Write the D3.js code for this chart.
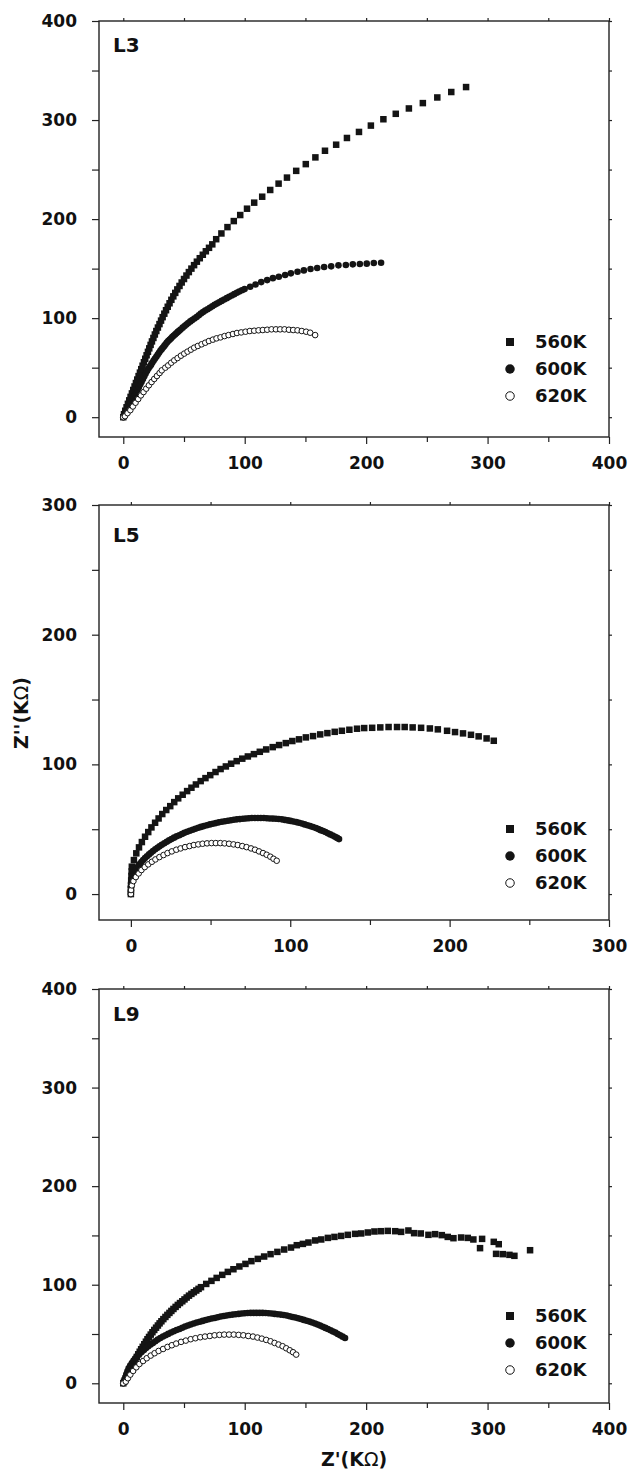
<!DOCTYPE html>
<html>
<head>
<meta charset="utf-8">
<script src="https://cdn.jsdelivr.net/npm/d3@7"></script>
<style>
  body { margin: 0; background: #fff; }
  svg text { font-family: "DejaVu Sans", sans-serif; font-weight: bold; fill: #111; }
</style>
</head>
<body>
<svg id="chart" width="628" height="1472"></svg>
<script>
// Nyquist plots, Z'' vs Z' (KOhm), points as [Z', Z'']

// ---- L3 ----
const L3_560K = [[0,0],[0.6,3],[1.6,6.5],[2.7,10],[3.8,13.5],[4.9,17],[6,20.5],[7.1,24],[8.2,27.5],[9.3,31],[10.4,34.5],[11.5,38],[12.6,41.5],[13.7,45],[14.8,48.5],[15.9,52],[17,55.5],[18.1,59],[19.2,62.5],[20.3,66],[21.4,69.5],[22.5,73],[23.6,76.5],[24.8,80],[26,83.5],[27.2,87],[28.5,90.5],[29.8,94],[31.1,97.5],[32.4,101],[33.8,104.5],[35.2,108],[36.6,111.5],[38.1,115],[39.6,118.5],[41.2,122],[42.8,125.5],[44.5,129],[46.3,132.5],[48.1,136],[50,139.5],[52,143],[54,146.5],[56.1,150],[58.3,153.5],[60.6,157],[63,160.5],[65.5,164],[68,167.5],[70.6,171],[73.3,174.5],[76.5,179.7],[80.8,185.5],[85.8,191.9],[91,198],[96.3,204.1],[101.9,210.5],[107.8,216.6],[114.4,222.6],[121,229.4],[127.9,235.8],[134.8,241.9],[142.4,248.7],[150.3,255.5],[158.2,262.3],[166.1,269],[175.3,275.1],[184.2,281.9],[194.1,288],[203.9,294.4],[214.2,300.8],[224.4,306.3],[235.2,311.7],[246.7,317.1],[258.6,322.8],[270.1,328.3],[282.3,333.3]];
const L3_600K = [[0,0],[0.7,1.6],[1.5,3.3],[2.2,5],[3,6.6],[3.7,8],[4.4,9.4],[5.4,12],[6.4,14.5],[7.5,17],[8.5,19.6],[9.6,22.3],[10.7,25],[11.8,27.7],[12.9,30.4],[14,33.2],[15.1,35.9],[16.2,38.6],[17.3,41.3],[18.4,44],[19.5,46.7],[20.6,48.8],[21.7,50.8],[22.8,52.8],[23.8,54.9],[24.9,56.9],[26,58.9],[27.2,60.9],[28.3,63],[29.4,65],[30.5,67],[31.6,68.7],[32.7,70.4],[33.8,72],[34.8,73.7],[35.9,75.4],[37,76.8],[38.1,78.1],[39.2,79.5],[40.3,80.9],[41.4,82.2],[42.6,83.5],[43.7,84.8],[44.9,86.1],[46,87.3],[47.2,88.6],[48.9,90.4],[50.5,92.1],[52,93.6],[53.5,95.1],[55.2,96.7],[56.8,98.2],[58.6,99.7],[60.4,101.2],[62.2,102.9],[63.9,104.6],[65.7,106.1],[67.5,107.6],[69.4,109],[71.3,110.4],[73.3,111.9],[75.2,113.4],[77.1,114.7],[79,116],[81,117.4],[83.1,118.8],[85.2,120.2],[87.2,121.5],[89.3,122.9],[91.4,124.2],[93.5,125.6],[95.5,126.9],[97.7,128.1],[99.9,129.3],[104.5,131.7],[108.9,134],[113.6,136.4],[118.5,138.4],[123.2,140.4],[128.1,141.8],[133.3,143.5],[138,145.2],[143.5,146.9],[148.7,148.2],[154.2,149.6],[159.7,150.6],[165.4,151.6],[171.2,152.3],[177.2,153.3],[183.3,153.6],[189,154.3],[194.8,154.6],[200.5,155],[206.3,155.7],[212.3,156]];
const L3_620K = [[0,0],[1.4,1],[3.5,4.1],[5.8,7.1],[7.9,10.8],[10.1,14.6],[12.3,18.3],[14.5,22],[16.7,25.4],[18.9,28.8],[21.1,32.2],[23.3,35.5],[25.5,38.6],[27.7,41.6],[29.9,44.6],[31.7,47.3],[34.6,50],[37,52.3],[39.5,55],[42,57.4],[44.7,59.7],[47.5,62.1],[50.2,64.2],[52.9,66.2],[55.7,68.2],[58.4,70.2],[61.4,71.9],[64.5,73.6],[67.5,75.2],[70.5,76.9],[73.8,78.3],[76.8,79.6],[80.1,80.6],[83.4,81.9],[86.7,82.9],[90.3,84],[93.6,85],[97.1,85.6],[100.7,86.3],[104.2,87],[107.8,87.3],[111.4,87.7],[114.9,88],[118.5,88.3],[122.1,88.7],[125.7,88.7],[129.2,88.7],[132.8,88.7],[136.4,88.3],[139.9,88],[143.5,87.7],[147,87],[150.6,86.3],[153.9,85.3],[158,82.9]];

// ---- L5 ----
const L5_560K = [[0,0],[0.05,3.5],[0.1,7],[0.2,10.5],[0.35,14],[0.5,17.5],[0.6,21.1],[1.9,26.2],[3.4,31.4],[5.1,36],[6.9,40.1],[8.9,44.2],[10.9,47.8],[12.9,51.4],[15.2,55],[17.4,58.3],[19.7,61.7],[22.2,64.8],[24.7,67.8],[27.2,70.9],[29.7,73.8],[32.5,76.6],[35.3,79.4],[38,82],[40.8,84.5],[43.8,87.1],[46.8,89.4],[49.8,91.7],[53.1,94.1],[56.3,96.4],[59.6,98.4],[62.9,100.5],[66.4,102.5],[69.9,104.4],[73.4,106.1],[77.2,107.9],[80.9,109.7],[84.9,111.5],[89,113.3],[93,114.9],[97.2,116.4],[101.3,118],[105.5,119.3],[109.8,120.8],[114.3,121.8],[118.8,123.1],[123.3,124.1],[127.9,125.1],[132.4,125.9],[137.1,126.7],[141.9,127.5],[146.4,128],[151.4,128.2],[156.5,128.5],[161.7,128.8],[167,128.8],[171.8,128.8],[176.8,128.5],[182.1,128.2],[187.6,127.7],[192.6,127],[198.4,125.9],[203.4,124.9],[208.4,123.9],[213.4,122.8],[218.2,121.6],[223.2,120],[227.7,118.2]];
const L5_600K = [[0,0],[0,2.8],[0,5.6],[0.2,8.2],[0.4,10.8],[0.9,12.7],[1.4,14.6],[2.1,16.5],[2.9,18.3],[3.7,20],[4.6,21.6],[5.6,23.2],[6.6,24.7],[7.7,26.3],[8.9,27.8],[10.1,29.2],[11.4,30.6],[12.6,31.9],[13.9,33.2],[15.3,34.5],[16.7,35.7],[18,36.9],[19.4,38],[21,39.2],[22.5,40.3],[24,41.4],[25.5,42.4],[27.1,43.5],[28.7,44.5],[30.4,45.4],[32,46.3],[33.6,47.2],[35.3,48],[37,48.8],[38.8,49.6],[40.5,50.4],[42.3,51.1],[44,51.8],[45.8,52.4],[47.7,53.1],[49.6,53.7],[51.4,54.2],[53.3,54.7],[55.2,55.3],[57.1,55.8],[59,56.2],[60.9,56.5],[62.8,56.9],[64.6,57.3],[66.5,57.6],[68.4,57.8],[70.3,58.1],[72.1,58.3],[74,58.5],[75.9,58.6],[77.8,58.6],[79.7,58.6],[81.5,58.6],[83.4,58.6],[85.3,58.5],[87.2,58.3],[89.1,58.2],[91,58.1],[92.8,57.9],[94.7,57.6],[96.6,57.2],[98.5,56.8],[100.2,56.4],[102,56],[103.8,55.5],[105.5,55],[107.3,54.4],[109,53.7],[110.8,53.1],[112.5,52.4],[114.3,51.7],[116.1,50.9],[117.6,50.1],[119.1,49.3],[120.6,48.6],[122.1,47.8],[123.6,46.9],[125.1,46],[126.6,45.1],[128.1,44.2],[129.4,43.3],[130.6,42.4]];
const L5_620K = [[0,0],[0.1,3.1],[0.6,6.7],[1.6,10],[3.1,13.1],[4.9,15.9],[6.6,18.5],[8.7,20.8],[10.9,22.9],[13.2,24.9],[15.4,26.7],[17.9,28.5],[20.5,30.1],[23,31.6],[25.7,32.9],[28.5,34.2],[31.2,35.2],[34,36.2],[36.8,37],[39.5,37.8],[42.3,38.3],[45,38.8],[47.8,39.1],[50.6,39.3],[53.3,39.3],[56.1,39.3],[58.8,39.1],[61.6,38.8],[64.4,38.3],[67.1,37.8],[69.9,37],[72.6,36.2],[75.4,35.2],[77.9,34.2],[80.4,32.9],[82.9,31.6],[85.2,30.3],[87.5,28.8],[89.5,27.2],[91.5,25.7]];

// ---- L9 ----
const L9_560K = [[0,0],[0.6,1.5],[1.2,3],[2,4.8],[2.9,7.1],[3.8,9.2],[4.7,11.3],[5.6,13.5],[6.6,15.9],[7.7,18.3],[8.8,21.1],[10,24],[11.1,26.7],[12.3,29.4],[13.5,32],[14.7,34.5],[16,37],[17.3,39.6],[18.6,42.2],[19.9,44.7],[21.2,47],[22.6,49.4],[24,51.8],[25.5,54.1],[27,56.4],[28.5,58.6],[29.9,60.8],[31.4,62.9],[33,65.1],[34.7,67.3],[36.3,69.4],[38,71.4],[39.6,73.4],[41.3,75.4],[43.1,77.5],[44.9,79.5],[46.7,81.4],[48.6,83.2],[50.4,85.1],[52.2,87],[54.1,88.9],[56.1,90.7],[58.1,92.4],[60.1,94.1],[62,95.8],[64,97.5],[68.3,100.8],[72.6,103.9],[76.9,106.9],[81.5,110],[86.1,113],[90.7,115.7],[95.6,118.5],[100.6,121.1],[105.5,123.9],[110.8,126.2],[116,128.6],[121.3,131],[126.9,133.3],[132.5,135.7],[138.1,137.7],[142.9,140.1],[147.9,141.4],[152.5,142.8],[158,144.9],[163,145.9],[168.5,147.5],[173.9,148.5],[179.4,149.5],[184.9,150.6],[190.9,151.6],[195.9,152],[201.4,153],[206.8,154],[212.1,154.3],[217.8,154.6],[223.9,154.3],[228.8,153.6],[234.8,155],[239.5,152.3],[245,152],[251.3,150.6],[256.8,151.3],[262.3,150.3],[267.2,148.5],[271.9,147.2],[278.2,147.9],[283.7,147.5],[288.3,145.9],[293.8,137.1],[295.5,146.5],[305.1,143.5],[309.2,141.1],[307,131.3],[312.5,131],[318,130.3],[322.1,129.3],[335,135]];
const L9_600K = [[0,0],[0.6,1.5],[1.2,3],[1.8,6],[2.5,9.1],[3.4,12.2],[4.4,15.2],[5.7,17.9],[7.1,20.6],[8.5,23],[10,25.4],[11.6,27.6],[13.3,29.8],[15.1,31.8],[17,33.8],[18.8,35.7],[20.6,37.6],[22.5,39.3],[24.4,40.9],[26.4,42.6],[28.4,44.3],[30.5,45.9],[32.7,47.4],[34.8,48.8],[37,50.1],[39.3,51.5],[41.6,52.8],[43.9,54],[46.3,55.1],[48.6,56.4],[50.9,57.6],[53.2,58.6],[55.5,59.6],[58,60.6],[60.5,61.6],[63,62.5],[65.4,63.3],[67.9,64.2],[70.3,65],[72.8,65.7],[75.3,66.3],[77.7,67],[80.2,67.7],[82.7,68.2],[85.1,68.7],[87.6,69.2],[90.1,69.7],[92.5,70.1],[95,70.4],[97.5,70.8],[100,71.1],[102.4,71.3],[104.9,71.4],[107.4,71.4],[109.8,71.4],[112.3,71.4],[114.8,71.4],[117.2,71.3],[119.7,71.1],[122.2,70.8],[124.7,70.4],[127.1,70.1],[129.6,69.7],[132.1,69.2],[134.6,68.7],[137,68],[139.4,67.3],[141.7,66.7],[144,66],[146.3,65.2],[148.6,64.3],[151,63.5],[153.3,62.6],[155.6,61.6],[157.9,60.6],[160,59.6],[162.1,58.5],[164.3,57.4],[166.4,56.2],[168.5,55],[170.7,53.8],[172.7,52.6],[174.7,51.4],[176.6,50],[178.6,48.7],[180.6,47.3],[182.6,46]];
const L9_620K = [[0,0],[2.1,1.7],[3.8,5.1],[5.8,8.8],[8.1,12.5],[10.7,16.2],[13.3,19.6],[16.3,22.6],[19.3,25.4],[22.6,28.1],[25.8,30.5],[29.1,32.8],[32.8,34.8],[36.4,36.9],[40,38.6],[43.6,40.3],[47.6,42],[51.5,43.3],[55.5,44.7],[59.4,45.7],[63.4,46.7],[67.3,47.4],[71.3,48],[75.2,48.7],[79.2,49.1],[83.1,49.4],[87.1,49.4],[91,49.4],[95,49.1],[98.9,48.7],[102.9,48],[106.8,47.4],[110.5,46.4],[114.1,45.3],[117.7,44],[121.3,42.6],[124.6,40.9],[127.9,39.3],[131.2,37.6],[134.2,35.5],[137.1,33.5],[139.8,31.5],[142.4,29.1]];

const legendNames = ["560K", "600K", "620K"];
const panelLabels = ["L3", "L5", "L9"];
const xTicks400 = [0, 100, 200, 300, 400];
const xTicks300 = [0, 100, 200, 300];
const yTicks400 = [0, 100, 200, 300, 400];
const yTicks300 = [0, 100, 200, 300];

// layout of the three stacked panels
const left = 99, right = 609;
const panels = [
  { label: panelLabels[0], top: 21,  bottom: 437,  xMax: 400, yMax: 400, xt: xTicks400, yt: yTicks400, series: [L3_560K, L3_600K, L3_620K], legY: 342,  labY: 52 },
  { label: panelLabels[1], top: 505, bottom: 920,  xMax: 300, yMax: 300, xt: xTicks300, yt: yTicks300, series: [L5_560K, L5_600K, L5_620K], legY: 829,  labY: 542 },
  { label: panelLabels[2], top: 989, bottom: 1403, xMax: 400, yMax: 400, xt: xTicks400, yt: yTicks400, series: [L9_560K, L9_600K, L9_620K], legY: 1316, labY: 1021 }
];

const ink = "#141414";
const svg = d3.select("#chart");

// draws one marker of a given series type into a selection
function marker(sel, type, size) {
  if (type === 0) {
    sel.append("rect")
      .attr("x", -size / 2).attr("y", -size / 2)
      .attr("width", size).attr("height", size)
      .attr("fill", ink);
  } else if (type === 1) {
    sel.append("circle").attr("r", size / 2).attr("fill", ink);
  } else {
    sel.append("circle").attr("r", size / 2 - 0.5)
      .attr("fill", "#fff").attr("stroke", ink).attr("stroke-width", 1);
  }
}

panels.forEach(function(p) {
  const x = d3.scaleLinear().domain([-20, p.xMax]).range([left, right]);
  const y = d3.scaleLinear().domain([-20, p.yMax]).range([p.bottom, p.top]);

  const g = svg.append("g");

  const xMinor = d3.range(50, p.xMax, 100);
  const yMinor = d3.range(50, p.yMax, 100);

  // left axis with labels
  g.append("g").attr("transform", "translate(" + left + ",0)")
    .call(d3.axisLeft(y).tickValues(p.yt).tickSize(7).tickSizeOuter(0).tickPadding(15).tickFormat(d3.format("d")))
    .call(s => s.selectAll("text").attr("font-size", 17).attr("font-family", null).attr("fill", ink));
  g.append("g").attr("transform", "translate(" + left + ",0)")
    .call(d3.axisLeft(y).tickValues(yMinor).tickSize(7).tickSizeOuter(0).tickFormat(""));

  // bottom axis with labels
  g.append("g").attr("transform", "translate(0," + p.bottom + ")")
    .call(d3.axisBottom(x).tickValues(p.xt).tickSize(7).tickSizeOuter(0).tickPadding(13).tickFormat(d3.format("d")))
    .call(s => s.selectAll("text").attr("font-size", 17).attr("font-family", null).attr("fill", ink));
  g.append("g").attr("transform", "translate(0," + p.bottom + ")")
    .call(d3.axisBottom(x).tickValues(xMinor).tickSize(5).tickSizeOuter(0).tickFormat(""));

  // short ticks on top and right
  g.append("g").attr("transform", "translate(0," + p.top + ")")
    .call(d3.axisTop(x).tickValues(p.xt.concat(xMinor)).tickSize(3).tickSizeOuter(0).tickFormat(""));
  g.append("g").attr("transform", "translate(" + right + ",0)")
    .call(d3.axisRight(y).tickValues(p.yt.concat(yMinor)).tickSize(3).tickSizeOuter(0).tickFormat(""));

  g.selectAll(".domain").remove();
  g.selectAll(".tick line").attr("stroke", "#222").attr("stroke-width", 1.2);

  g.append("rect")
    .attr("x", left).attr("y", p.top)
    .attr("width", right - left).attr("height", p.bottom - p.top)
    .attr("fill", "none").attr("stroke", "#222").attr("stroke-width", 1.4);

  // data points, 560K first so the lighter series sit on top
  p.series.forEach(function(data, k) {
    const sz = k === 0 ? 6.5 : 6.6;
    g.append("g").selectAll("g")
      .data(data)
      .join("g")
      .attr("transform", d => "translate(" + x(d[0]) + "," + y(d[1]) + ")")
      .each(function() { marker(d3.select(this), k, sz); });
  });

  // panel label
  g.append("text").attr("x", 113).attr("y", p.labY)
    .attr("font-size", 20).text(p.label);

  // legend
  const leg = g.append("g");
  legendNames.forEach(function(name, k) {
    const row = leg.append("g").attr("transform", "translate(510," + (p.legY + k * 27) + ")");
    marker(row, k, k === 0 ? 8 : 9.5);
    row.append("text").attr("x", 25).attr("dy", "0.36em")
      .attr("font-size", 18).text(name);
  });
});

// axis titles
const yTitle = svg.append("text")
  .attr("transform", "translate(28,713) rotate(-90)")
  .attr("text-anchor", "middle")
  .attr("font-size", 19);
yTitle.append("tspan").text("Z''(K");
yTitle.append("tspan").attr("font-weight", "normal").text("Ω");
yTitle.append("tspan").text(")");

const xTitle = svg.append("text")
  .attr("x", (left + right) / 2).attr("y", 1466)
  .attr("text-anchor", "middle")
  .attr("font-size", 19);
xTitle.append("tspan").text("Z'(K");
xTitle.append("tspan").attr("font-weight", "normal").text("Ω");
xTitle.append("tspan").text(")");
</script>
</body>
</html>
